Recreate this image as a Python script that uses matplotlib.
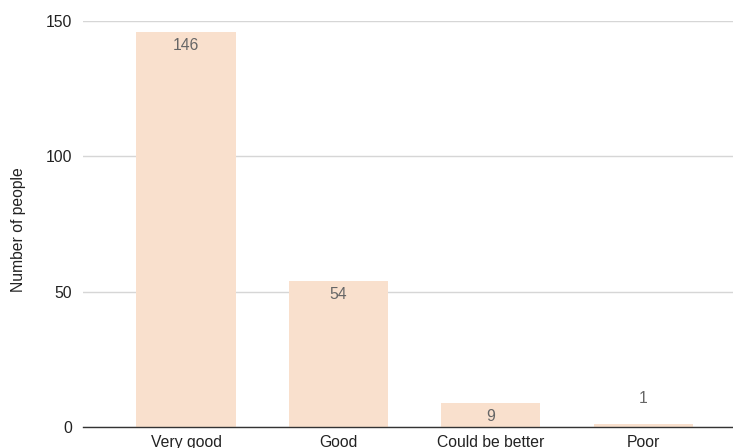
import matplotlib
matplotlib.use("Agg")
import matplotlib.pyplot as plt

categories = ["Very good", "Good", "Could be better", "Poor"]
values = [146, 54, 9, 1]
yticks = [0, 50, 100, 150]

plt.rcParams['font.family'] = ['Liberation Sans', 'DejaVu Sans']

fig = plt.figure(figsize=(7.33, 4.48), dpi=100)
ax = fig.add_axes([83/733, 21/448, 650/733, 406/448])

x = list(range(len(categories)))
bars = ax.bar(x, values, width=0.65, color="#f9e0cd", zorder=2)

for xi, v in zip(x, values):
    if v > 5:
        ax.annotate(str(v), (xi, v), xytext=(0, -4.5), textcoords="offset points",
                    ha="center", va="top", color="#666666", fontsize=11.3)
    else:
        ax.annotate(str(v), (xi, v), xytext=(0, 13), textcoords="offset points",
                    ha="center", va="bottom", color="#666666", fontsize=11.3)

ax.set_xlim(-0.676, 3.59)
ax.set_ylim(0, 150)
ax.set_yticks(yticks)
ax.set_xticks(x)
ax.set_xticklabels(categories)
ax.tick_params(axis="both", length=0, labelsize=11.3, colors="#222222")
ax.tick_params(axis="x", pad=5.5)
ax.tick_params(axis="y", pad=8)
ax.yaxis.grid(True, color="#d6d6d6", linewidth=1, zorder=0)
for s in ["top", "right", "left"]:
    ax.spines[s].set_visible(False)
ax.spines["bottom"].set_color("#333333")
ax.spines["bottom"].set_linewidth(1)
ax.spines["bottom"].set_zorder(3)
ax.set_ylabel("Number of people", fontsize=11.3, color="#222222")
ax.yaxis.set_label_coords(-(83 - 26) / 650, (427 - 230) / 406)

fig.savefig("out.png", dpi=100)
